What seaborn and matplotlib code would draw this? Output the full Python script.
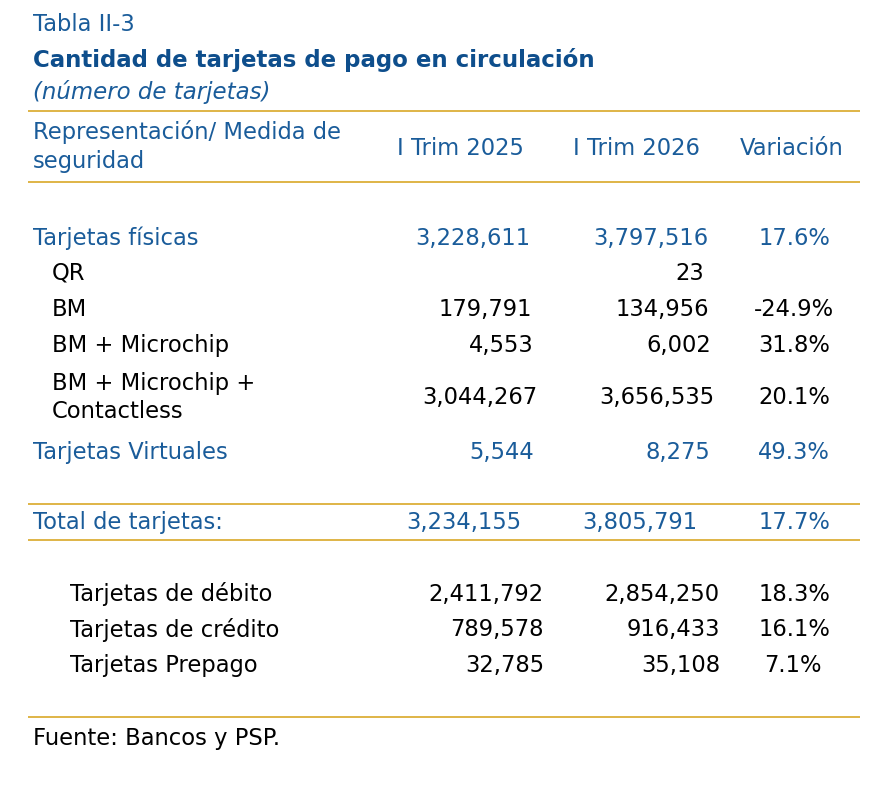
import matplotlib
matplotlib.use("Agg")
import matplotlib.pyplot as plt
import seaborn as sns

# ---- data ----
header_cols = ["I Trim 2025", "I Trim 2026", "Variación"]
categories = ["Tarjetas físicas", "QR", "BM", "BM + Microchip",
              "BM + Microchip +\nContactless", "Tarjetas Virtuales"]
values_2025 = [3228611, None, 179791, 4553, 3044267, 5544]
values_2026 = [3797516, 23, 134956, 6002, 3656535, 8275]
variation = [17.6, None, -24.9, 31.8, 20.1, 49.3]
is_group = [True, False, False, False, False, True]

total_label = "Total de tarjetas:"
total_2025 = 3234155
total_2026 = 3805791
total_var = 17.7

types = ["Tarjetas de débito", "Tarjetas de crédito", "Tarjetas Prepago"]
types_2025 = [2411792, 789578, 32785]
types_2026 = [2854250, 916433, 35108]
types_var = [18.3, 16.1, 7.1]

# ---- style ----
sns.set_theme(style="white")
plt.rcParams["font.family"] = ["DejaVu Sans"]
BLUE = "#1A5C9A"
TITLE = "#0E4E8C"
GOLD = "#D9A828"
FS = 16.3
VA = "center_baseline"
DY = -2

fig = plt.figure(figsize=(8.76, 7.92), dpi=100)
ax = fig.add_axes([0, 0, 1, 1])
ax.set_xlim(0, 876)
ax.set_ylim(792, 0)
ax.axis("off")

def fmt(v):
    return "" if v is None else f"{v:,}"

def pct(v):
    return "" if v is None else f"{v:.1f}%"

def put(x, y, s, **kw):
    ax.text(x, y + DY, s, va=VA, **kw)

# titles
put(33, 24, "Tabla II-3", color=BLUE, fontsize=FS)
put(33, 60, "Cantidad de tarjetas de pago en circulación", color=TITLE,
    fontsize=16.5, fontweight="bold")
put(33, 91, "(número de tarjetas)", color=BLUE, fontsize=16.5, style="italic")

# rules
for y in [111, 182, 504, 540, 717]:
    ax.plot([28, 860], [y, y], color=GOLD, lw=1.2, solid_capstyle="butt")

# header
put(33, 132, "Representación/ Medida de", color=BLUE, fontsize=FS)
put(33, 161, "seguridad", color=BLUE, fontsize=FS)
hx = [460, 636, 792]
for x, h in zip(hx, header_cols):
    put(x, 148, h, color=BLUE, fontsize=FS, ha="center")

# body rows
row_y = [238, 273, 309, 345, 397, 452]
c1 = [530, 533, 532, 534, 537, 534]
c2 = [708, 704, 709, 711, 714, 710]
c3 = [830, 830, 834, 830, 830, 830]
for i, (lab, a, b, v) in enumerate(zip(categories, values_2025, values_2026, variation)):
    col = BLUE if is_group[i] else "black"
    lx = 33 if is_group[i] else 52
    lines = lab.split("\n")
    if len(lines) == 1:
        put(lx, row_y[i], lab, color=col, fontsize=FS)
    else:
        put(lx, row_y[i] - 14, lines[0], color=col, fontsize=FS)
        put(lx, row_y[i] + 14, lines[1], color=col, fontsize=FS)
    put(c1[i], row_y[i], fmt(a), color=col, fontsize=FS, ha="right")
    put(c2[i], row_y[i], fmt(b), color=col, fontsize=FS, ha="right")
    put(c3[i], row_y[i], pct(v), color=col, fontsize=FS, ha="right")

# total row
put(33, 522, total_label, color=BLUE, fontsize=FS)
put(521, 522, fmt(total_2025), color=BLUE, fontsize=FS, ha="right")
put(697, 522, fmt(total_2026), color=BLUE, fontsize=FS, ha="right")
put(830, 522, pct(total_var), color=BLUE, fontsize=FS, ha="right")

# card types
ty = [594, 629, 665]
tv_x = [830, 830, 822]
for i, (lab, a, b, v) in enumerate(zip(types, types_2025, types_2026, types_var)):
    put(70, ty[i], lab, color="black", fontsize=FS)
    put(544, ty[i], fmt(a), color="black", fontsize=FS, ha="right")
    put(720, ty[i], fmt(b), color="black", fontsize=FS, ha="right")
    put(tv_x[i], ty[i], pct(v), color="black", fontsize=FS, ha="right")

put(33, 738, "Fuente: Bancos y PSP.", color="black", fontsize=FS)

fig.savefig("out.png", dpi=100, facecolor="white")
